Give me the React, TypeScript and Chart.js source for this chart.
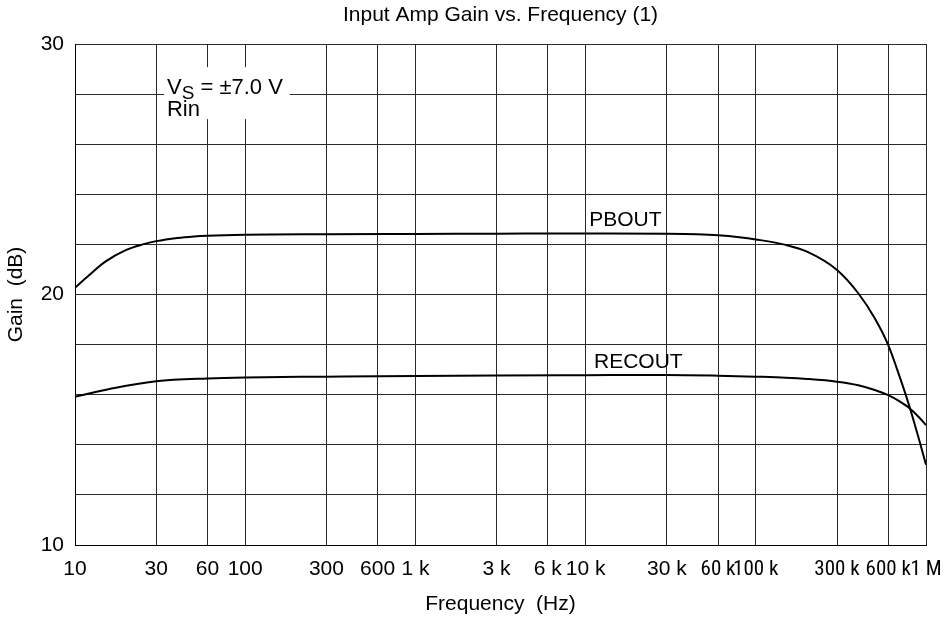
import React, { useEffect, useRef } from 'react';
import { Chart, registerables } from 'chart.js';

Chart.register(...registerables);

const TITLE = 'Input Amp Gain vs. Frequency (1)';
const X_TITLE = 'Frequency  (Hz)';
const Y_TITLE = 'Gain  (dB)';

const X_TICKS = [10, 30, 60, 100, 300, 600, 1e3, 3e3, 6e3, 1e4, 3e4, 6e4, 1e5, 3e5, 6e5, 1e6];
const X_TICK_LABELS = ['10', '30', '60', '100', '300', '600', '1 k', '3 k', '6 k', '10 k', '30 k', '60 k', '100 k', '300 k', '600 k', '1 M'];
const Y_LABELLED = [10, 20, 30];

const PBOUT_FREQ = [10, 12, 15, 20, 25, 30, 40, 50, 60, 100, 300, 1000, 3000, 10000, 30000, 45000, 60000, 80000, 100000, 150000, 200000, 300000, 400000, 500000, 600000, 700000, 800000, 900000, 1000000];
const PBOUT_GAIN = [20.27, 20.75, 21.3, 21.78, 22.0, 22.13, 22.26, 22.32, 22.35, 22.39, 22.41, 22.42, 22.43, 22.44, 22.43, 22.41, 22.37, 22.29, 22.2, 21.98, 21.71, 20.98, 20.05, 19.05, 17.98, 16.72, 15.52, 14.33, 13.2];

const RECOUT_FREQ = [10, 15, 20, 30, 60, 100, 300, 1000, 3000, 10000, 30000, 60000, 100000, 150000, 200000, 300000, 400000, 500000, 600000, 700000, 800000, 900000, 1000000];
const RECOUT_GAIN = [15.92, 16.19, 16.36, 16.54, 16.65, 16.69, 16.72, 16.75, 16.77, 16.78, 16.79, 16.76, 16.72, 16.68, 16.63, 16.52, 16.38, 16.19, 15.98, 15.73, 15.46, 15.13, 14.79];

const SERIES_NAMES = ['PBOUT', 'RECOUT'];

const FONT = "'Liberation Sans', Arial, Helvetica, sans-serif";
const NARROW = "'Roboto Condensed', 'Liberation Sans Narrow', 'Open Sans Condensed', 'Noto Sans Condensed', 'DejaVu Sans Condensed', 'Liberation Sans', Arial, sans-serif";

// annotation anchors (data coordinates)
const NOTE_ANCHOR = { x: 34.7, y: 28.0 };
const SERIES_LABEL_ANCHORS = [
  { x: 10500, y: 22.73 },
  { x: 11200, y: 17.05 },
];

const notesPlugin = {
  id: 'notes',
  beforeDatasetsDraw(chart: any) {
    const { ctx } = chart;
    const xs = chart.scales.x;
    const ys = chart.scales.y;
    const left = xs.getPixelForValue(NOTE_ANCHOR.x);
    const base = ys.getPixelForValue(NOTE_ANCHOR.y);
    ctx.save();
    ctx.textAlign = 'left';
    ctx.textBaseline = 'alphabetic';
    ctx.font = `22px ${FONT}`;
    const wV = ctx.measureText('V').width;
    const rest = ' = \u00b17.0 V';
    const wR = ctx.measureText(rest).width;
    ctx.font = `19px ${FONT}`;
    const wS = ctx.measureText('S').width;
    const total = wV + wS + wR;
    ctx.fillStyle = '#ffffff';
    ctx.fillRect(left - 3, base - 27, total + 10, 52);
    ctx.fillStyle = '#000000';
    ctx.font = `22px ${FONT}`;
    ctx.fillText('V', left, base);
    ctx.font = `19px ${FONT}`;
    ctx.fillText('S', left + wV, base + 5);
    ctx.font = `22px ${FONT}`;
    ctx.fillText(rest, left + wV + wS, base);
    ctx.fillText('Rin', left, base + 21.5);
    ctx.restore();
  },
  afterDatasetsDraw(chart: any) {
    const { ctx } = chart;
    const xs = chart.scales.x;
    const ys = chart.scales.y;
    ctx.save();
    ctx.textAlign = 'left';
    ctx.textBaseline = 'alphabetic';
    ctx.fillStyle = '#000000';
    ctx.font = `21px ${FONT}`;
    SERIES_NAMES.forEach((name, i) => {
      const a = SERIES_LABEL_ANCHORS[i];
      ctx.fillText(name, xs.getPixelForValue(a.x), ys.getPixelForValue(a.y));
    });
    ctx.restore();
  },
};

const GRID = '#2a2a2a';

export default function App() {
  const ref = useRef<HTMLCanvasElement | null>(null);

  useEffect(() => {
    if (!ref.current) return;
    const pb = PBOUT_FREQ.map((f, i) => ({ x: f, y: PBOUT_GAIN[i] }));
    const rc = RECOUT_FREQ.map((f, i) => ({ x: f, y: RECOUT_GAIN[i] }));
    const chart = new Chart(ref.current, {
      type: 'line',
      data: {
        datasets: [
          {
            label: SERIES_NAMES[0],
            data: pb,
            borderColor: '#000',
            borderWidth: 2,
            pointRadius: 0,
            cubicInterpolationMode: 'monotone',
            fill: false,
          },
          {
            label: SERIES_NAMES[1],
            data: rc,
            borderColor: '#000',
            borderWidth: 2,
            pointRadius: 0,
            cubicInterpolationMode: 'monotone',
            fill: false,
          },
        ],
      },
      options: {
        animation: false,
        responsive: false,
        events: [],
        layout: { padding: { left: 0, right: 21, top: 0, bottom: 0 } },
        plugins: {
          legend: { display: false },
          tooltip: { enabled: false },
          title: {
            display: true,
            fullSize: false,
            text: TITLE,
            color: '#000',
            font: { family: FONT, size: 21, weight: 'normal', lineHeight: 1.2 },
            padding: { top: 3, bottom: 15.8 },
          },
        },
        scales: {
          x: {
            type: 'logarithmic',
            min: 10,
            max: 1e6,
            afterBuildTicks: (s: any) => {
              s.ticks = X_TICKS.map((v) => ({ value: v }));
            },
            afterFit: (s: any) => {
              s.height = 76;
              s.paddingLeft = 0;
              s.paddingRight = 0;
            },
            ticks: {
              autoSkip: false,
              maxRotation: 0,
              minRotation: 0,
              padding: 12,
              color: '#000',
              font: (c: any) => ({ family: c.index >= 11 ? NARROW : FONT, size: 21 }),
              callback: (_v: any, i: number) => X_TICK_LABELS[i],
            },
            grid: { color: GRID, lineWidth: 1, drawTicks: false },
            border: { color: '#000', width: 1 },
            title: {
              display: true,
              text: X_TITLE,
              color: '#000',
              font: { family: FONT, size: 21, lineHeight: 1.2 },
              padding: { top: 0, bottom: 4 },
            },
          },
          y: {
            type: 'linear',
            min: 10,
            max: 30,
            afterFit: (s: any) => {
              s.width = 75;
              s.paddingTop = 0;
              s.paddingBottom = 0;
            },
            ticks: {
              stepSize: 2,
              padding: 11,
              color: '#000',
              font: { family: FONT, size: 21 },
              callback: (v: any) => (Y_LABELLED.includes(Number(v)) ? String(v) : ''),
            },
            grid: { color: GRID, lineWidth: 1, drawTicks: false },
            border: { color: '#000', width: 1 },
            title: {
              display: true,
              text: Y_TITLE,
              color: '#000',
              font: { family: FONT, size: 21, lineHeight: 1.2 },
              padding: { top: 4, bottom: 0 },
            },
          },
        },
      },
      plugins: [notesPlugin],
    } as any);
    return () => chart.destroy();
  }, []);

  return (
    <div style={{ position: 'absolute', left: 0, top: 0, width: 947, height: 621, background: '#fff' }}>
      <canvas ref={ref} width={947} height={621} style={{ display: 'block' }} />
    </div>
  );
}
